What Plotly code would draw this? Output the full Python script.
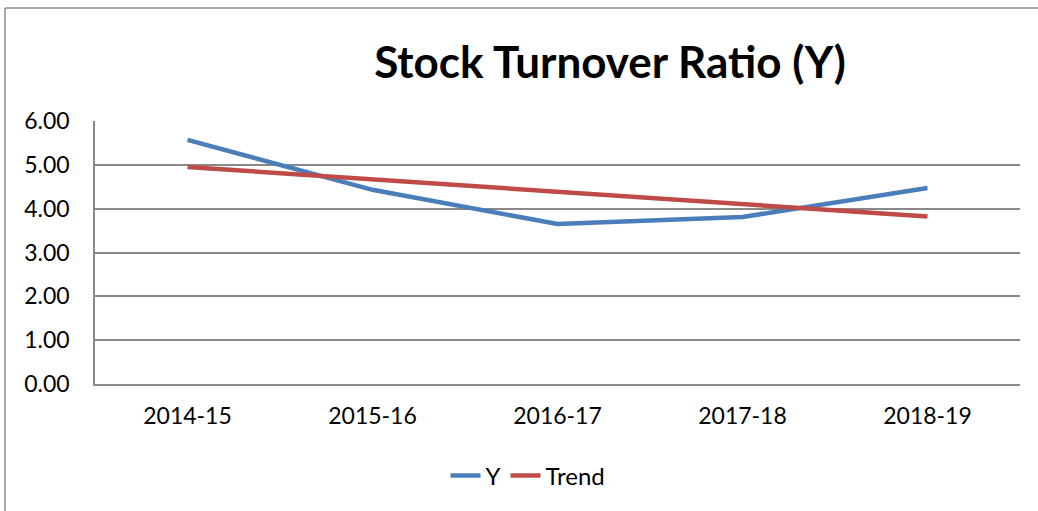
import plotly.graph_objects as go

categories = ["2014-15", "2015-16", "2016-17", "2017-18", "2018-19"]
y_values = [5.57, 4.43, 3.65, 3.81, 4.47]
trend_values = [4.95, 4.67, 4.39, 4.10, 3.82]
y_ticks = [0, 1, 2, 3, 4, 5, 6]
y_tick_labels = ["0.00", "1.00", "2.00", "3.00", "4.00", "5.00", "6.00"]

W, H = 1038, 511
L, R, T, B = 95, 18, 121, 127
pw = W - L - R
ph = H - T - B

fig = go.Figure()
fig.add_trace(go.Scatter(x=categories, y=y_values, mode="lines", name="Y",
                         line=dict(color="#4a7ebb", width=4.5)))
fig.add_trace(go.Scatter(x=categories, y=trend_values, mode="lines", name="Trend",
                         line=dict(color="#be4b48", width=4.5)))

font_family = "Lato, 'Open Sans', sans-serif"

def px_x(p):
    return (p - L) / pw

def px_y(p):
    return (H - B - p) / ph

fig.update_layout(
    width=W, height=H,
    margin=dict(l=L, r=R, t=T, b=B, autoexpand=False),
    paper_bgcolor="white", plot_bgcolor="white",
    font=dict(family=font_family, color="black", size=23),
    title=dict(text="<b>Stock Turnover Ratio (Y)</b>", x=px_x(610), xref="paper",
               xanchor="center", y=1 - 63 / H, yanchor="middle",
               font=dict(size=44, family=font_family, color="black")),
    xaxis=dict(type="category", range=[-0.5, 4.5], showgrid=False,
               showline=True, linecolor="#898989", linewidth=1.5,
               ticks="", tickfont=dict(size=23), ticklabelstandoff=11),
    yaxis=dict(range=[0, 6], tickvals=y_ticks, ticktext=y_tick_labels,
               showgrid=True, gridcolor="#898989", gridwidth=1.5,
               showline=True, linecolor="#898989", linewidth=1.5,
               ticks="", tickfont=dict(size=23), zeroline=False,
               ticklabelstandoff=19),
    legend=dict(orientation="h", x=px_x(528), xanchor="center",
                y=px_y(476), yanchor="middle", font=dict(size=24),
                tracegroupgap=0, bgcolor="rgba(0,0,0,0)"),
    showlegend=True,
)

# chart area border (left and top edges visible)
fig.add_shape(type="line", xref="paper", yref="paper",
              x0=px_x(5), x1=px_x(1045), y0=px_y(8), y1=px_y(8),
              line=dict(color="#8c8c8c", width=1.5))
fig.add_shape(type="line", xref="paper", yref="paper",
              x0=px_x(5), x1=px_x(5), y0=px_y(8), y1=px_y(520),
              line=dict(color="#8c8c8c", width=1.5))

fig.write_html(
    "out.html",
    config={"displayModeBar": False},
    post_script="document.body.style.margin='0';document.body.style.overflow='hidden';",
)
